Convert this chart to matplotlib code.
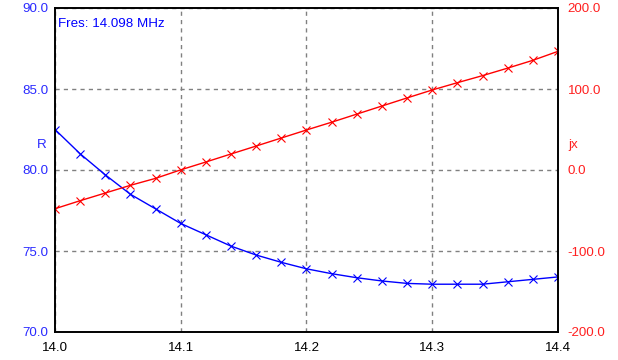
import matplotlib
matplotlib.use("Agg")
import matplotlib.pyplot as plt

plt.rcParams['font.family'] = ['Liberation Sans', 'DejaVu Sans']

# frequency points (MHz)
freq = [14.00, 14.02, 14.04, 14.06, 14.08, 14.10, 14.12, 14.14, 14.16, 14.18, 14.20,
        14.22, 14.24, 14.26, 14.28, 14.30, 14.32, 14.34, 14.36, 14.38, 14.40]
# resistance R (ohm)
r_vals = [82.5, 81.0, 79.7, 78.5, 77.6, 76.7, 76.0, 75.3, 74.75, 74.3, 73.9,
          73.6, 73.35, 73.15, 73.0, 72.95, 72.95, 72.95, 73.1, 73.25, 73.4]
# reactance jx (ohm)
x_vals = [-47.8, -37.9, -28.4, -18.9, -10.3, 0.2, 9.9, 19.8, 29.6, 39.5, 49.4,
          59.0, 69.0, 79.0, 89.0, 98.8, 107.8, 116.5, 125.8, 135.4, 146.5]

x_ticks = [14.0, 14.1, 14.2, 14.3, 14.4]
r_ticks = [70, 75, 80, 85, 90]
jx_ticks = [-200, -100, 0, 100, 200]

fs = 9.6

fig = plt.figure(figsize=(6.18, 3.6), dpi=100)
ax = fig.add_axes([55 / 618, 28 / 360, 503 / 618, 324 / 360])
ax2 = ax.twinx()
ax2.set_position(ax.get_position())

ax.plot(freq, r_vals, color='#0000ff', lw=1, marker='x', ms=5.5, mew=0.8)
ax2.plot(freq, x_vals, color='#ff0000', lw=1, marker='x', ms=5.5, mew=0.8)

ax.set_xlim(14.0, 14.4)
ax.set_ylim(70, 90)
ax2.set_ylim(-200, 200)

ax.set_xticks(x_ticks)
ax.set_xticklabels([f'{t:.1f}' for t in x_ticks])
ax.set_yticks(r_ticks)
ax.set_yticklabels([f'{t:.1f}' for t in r_ticks])
ax2.set_yticks(jx_ticks)
ax2.set_yticklabels([f'{t:.1f}' for t in jx_ticks])

ax.tick_params(axis='x', length=0, pad=7, labelsize=fs, labelcolor='black')
ax.tick_params(axis='y', length=0, pad=5, labelsize=fs, labelcolor='#2a2aff')
ax2.tick_params(axis='y', length=0, pad=7, labelsize=fs, labelcolor='#ff2020')

ax.grid(True, color='#808080', linestyle=(0, (3, 3)), linewidth=1)
for sp in list(ax.spines.values()) + list(ax2.spines.values()):
    sp.set_color('black')
    sp.set_linewidth(1.2)

ax.text(-0.026, 0.577, 'R', transform=ax.transAxes, color='#2a2aff',
        fontsize=fs, ha='center', va='center')
ax2.text(1.03, 0.577, 'jx', transform=ax.transAxes, color='#ff2020',
         fontsize=fs, ha='center', va='center')
ax.text(0.006, 0.95, 'Fres: 14.098 MHz', transform=ax.transAxes, color='#0000ff',
        fontsize=fs, ha='left', va='center')

fig.savefig('out.png', dpi=100)
plt.close(fig)
